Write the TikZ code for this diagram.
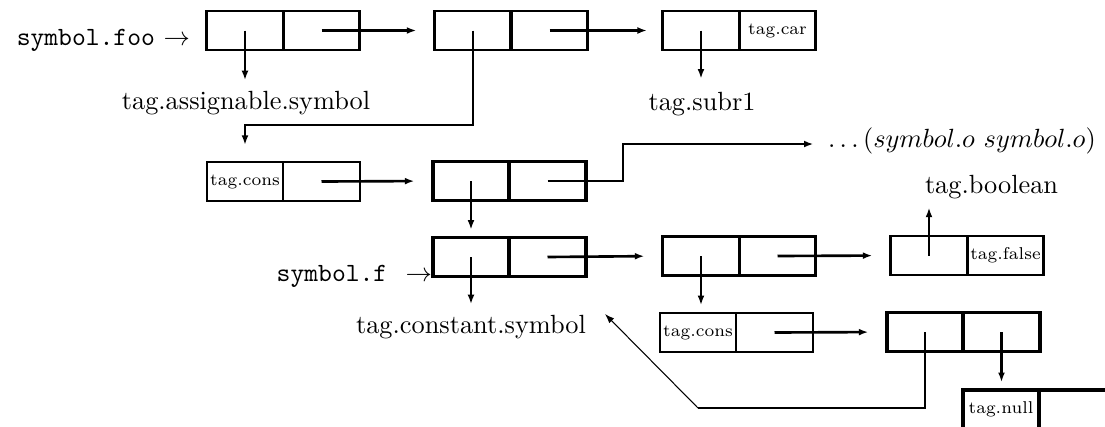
\documentclass[tikz,border=0pt]{standalone}
\usetikzlibrary{arrows.meta}
\begin{document}
\begin{tikzpicture}[x=0.38pt,y=-0.38pt,
  cell/.style={draw, line width=1.1pt, minimum width=29.07pt, minimum height=14.82pt,
    inner sep=0pt, outer sep=0pt, font=\fontsize{6.5}{8}\selectfont},
  heavy/.style={cell, line width=1.5pt},
  light/.style={cell, line width=0.9pt},
  lbl/.style={inner sep=0pt, outer sep=0pt},
  ptr/.style={line width=1pt, -{Latex[length=3.6pt,width=2.6pt]}},
  thinptr/.style={line width=0.4pt, -{Latex[length=3.6pt,width=2.6pt]}},
]
\useasboundingbox (0,0) rectangle (1105,426);
\clip (0,0) rectangle (1105,426);

% first row of cons cells
\node[cell] (b1a) at (245,30.5) {};
\node[cell] (b1d) at (321.5,30.5) {};
\node[cell] (b2a) at (473,30.5) {};
\node[cell] (b2d) at (549.5,30.5) {};
\draw[line width=1.5pt] (b2a.north east) -- (b2a.south east);
\node[cell] (b3a) at (701,30.5) {};
\node[cell] (b3d) at (777.5,30.5) {tag.car};

% second row
\node[light] (b4a) at (245,181.5) {tag.cons};
\node[light] (b4d) at (321.5,181.5) {};
\node[heavy] (b5a) at (471,181) {};
\node[heavy] (b5d) at (547.5,181) {};

% third row
\node[heavy] (b6a) at (471,257) {};
\node[heavy] (b6d) at (547.5,257) {};
\node[cell] (b7a) at (701,256) {};
\node[cell] (b7d) at (777.5,256) {};
\node[cell] (b8a) at (929,255.5) {};
\node[cell] (b8d) at (1005.5,255.5) {tag.false};

% fourth row
\node[light] (b9a) at (698,332.5) {tag.cons};
\node[light] (b9d) at (774.5,332.5) {};
\node[heavy] (b10a) at (925,332) {};
\node[heavy] (b10d) at (1001.5,332) {};
\node[heavy] (b11a) at (1001,409.5) {tag.null};
\node[heavy] (b11d) at (1077.5,409.5) {};

% labels
\node[lbl, anchor=base east] (foo) at (190,45) {\texttt{symbol.foo} $\rightarrow$};
\node[lbl, anchor=base east] (sf) at (432,281) {\texttt{symbol.f}\hskip 7pt $\rightarrow$};
\node[lbl, anchor=base] (tas) at (246,109) {tag.assignable.symbol};
\node[lbl, anchor=base] (tsu) at (702,110) {tag.subr1};
\node[lbl, anchor=base] (tcs) at (471,333) {tag.constant.symbol};
\node[lbl, anchor=base west] (tbo) at (925,193) {tag.boolean};
\node[lbl, anchor=base west] (dots) at (828,147) {$\ldots(symbol.o\ symbol.o)$};

% bend points
\coordinate (k1) at (245,125);
\coordinate (k2) at (623,144);
\coordinate (k3) at (698,408);
\coordinate (k4) at (605,314);

% pointers
\draw[ptr, shorten >=7pt] (b1d.center) -- (b2a.west);
\draw[ptr, shorten >=6pt] (b2d.center) -- (b3a.west);
\draw[ptr, shorten >=4pt] (b1a.center) -- (b1a.center |- tas.north);
\draw[ptr, shorten >=5pt] (b3a.center) -- (b3a.center |- tsu.north);
\draw[ptr, shorten >=6.5pt] (b2a.center) |- (k1) -- (b4a.north);
\draw[ptr, shorten >=7pt] (b4d.center) -- (b5a.west);
\draw[ptr, shorten >=3pt] (b5a.center) -- (b6a.north);
\draw[ptr, shorten >=5.5pt] (b5d.center) -| (k2) -- (k2 -| dots.west);
\draw[ptr, shorten >=7pt] (b6d.center) -- (b7a.west);
\draw[ptr, shorten >=7pt] (b7d.center) -- (b8a.west);
\draw[ptr, shorten >=4pt] (b6a.center) -- (b6a.center |- tcs.north);
\draw[ptr, shorten >=3pt] (b7a.center) -- (b7a.center |- b9a.north);
\draw[ptr, shorten >=3.5pt] (b8a.center) -- (b8a.center |- tbo.south);
\draw[ptr, shorten >=7pt] (b9d.center) -- (b10a.west);
\draw[ptr, shorten >=3pt] (b10d.center) -- (b10d.center |- b11a.north);
\draw[line width=1pt] (b10a.center) |- (k3);
\draw[thinptr] (k3) -- (k4);
\end{tikzpicture}
\end{document}
